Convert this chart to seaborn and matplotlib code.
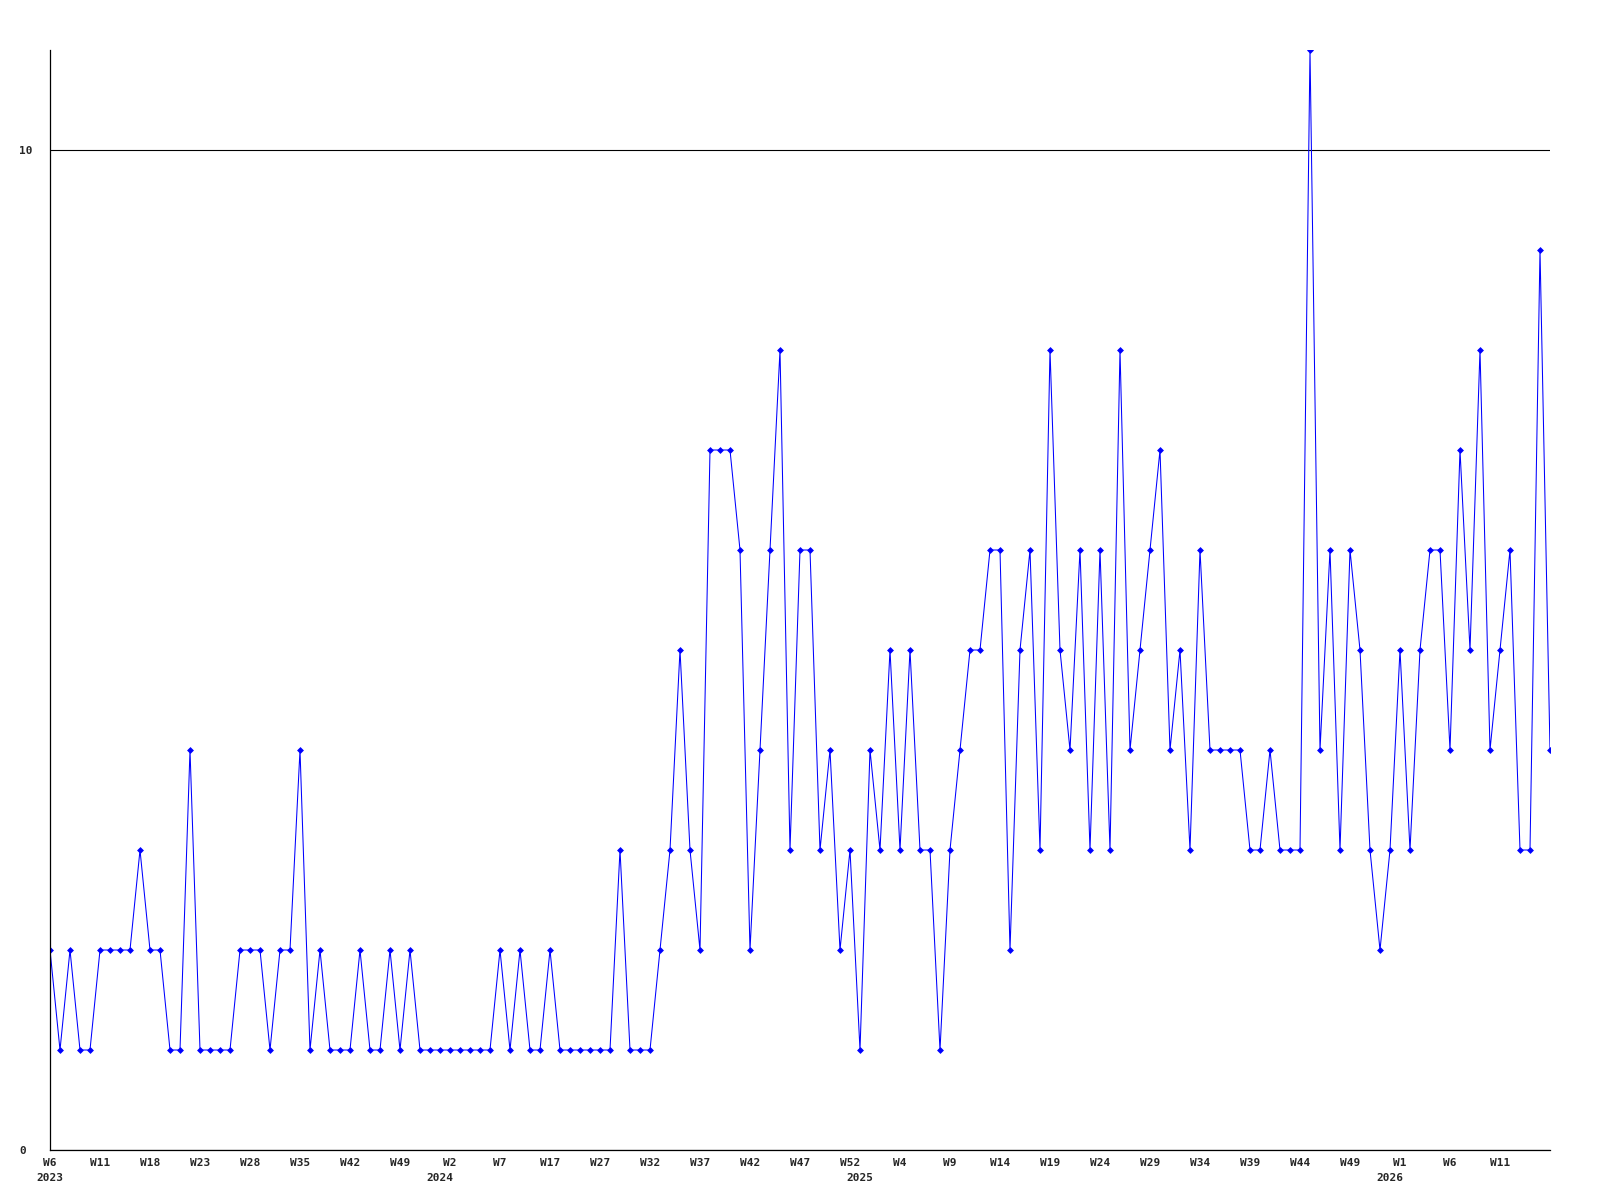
import matplotlib

matplotlib.use("Agg")
import matplotlib.pyplot as plt
import pandas as pd
import seaborn as sns

# weekly counts, one per reported week (weeks without entries are absent)
counts = [
    2, 1, 2, 1, 1, 2, 2, 2, 2, 3, 2, 2, 1, 1, 4, 1, 1, 1, 1, 2,
    2, 2, 1, 2, 2, 4, 1, 2, 1, 1, 1, 2, 1, 1, 2, 1, 2, 1, 1, 1,
    1, 1, 1, 1, 1, 2, 1, 2, 1, 1, 2, 1, 1, 1, 1, 1, 1, 3, 1, 1,
    1, 2, 3, 5, 3, 2, 7, 7, 7, 6, 2, 4, 6, 8, 3, 6, 6, 3, 4, 2,
    3, 1, 4, 3, 5, 3, 5, 3, 3, 1, 3, 4, 5, 5, 6, 6, 2, 5, 6, 3,
    8, 5, 4, 6, 3, 6, 3, 8, 4, 5, 6, 7, 4, 5, 3, 6, 4, 4, 4, 4,
    3, 3, 4, 3, 3, 3, 11, 4, 6, 3, 6, 5, 3, 2, 3, 5, 3, 5, 6, 6,
    4, 7, 5, 8, 4, 5, 6, 3, 3, 9, 4,
]

# label shown every 5th point
week_labels = [
    "W6", "W11", "W18", "W23", "W28", "W35", "W42", "W49",
    "W2", "W7", "W17", "W27", "W32", "W37", "W42", "W47", "W52",
    "W4", "W9", "W14", "W19", "W24", "W29", "W34", "W39", "W44", "W49",
    "W1", "W6", "W11",
]
years = ["2023", "2024", "2025", "2026"]
year_start = [0, 39, 81, 134]
y_ticks = [0, 10]

df = pd.DataFrame({"idx": range(len(counts)), "count": counts})

sns.set_style("white")
plt.rcParams["font.family"] = ["DejaVu Sans Mono", "DejaVu Sans"]

fig = plt.figure(figsize=(16, 12), dpi=100)
ax = fig.add_axes([50 / 1600, 50 / 1200, 1500 / 1600, 1100 / 1200])

sns.lineplot(
    data=df, x="idx", y="count", ax=ax,
    color="#0000ff", linewidth=0.75,
    marker="D", markersize=3, markerfacecolor="#0000ff",
    markeredgecolor="#0000ff", markeredgewidth=0.5,
)

ax.set_xlim(0, len(counts) - 1)
ax.set_ylim(0, 11)
ax.set_xlabel("")
ax.set_ylabel("")

for side in ["top", "right"]:
    ax.spines[side].set_visible(False)
for side in ["left", "bottom"]:
    ax.spines[side].set_color("black")
    ax.spines[side].set_linewidth(0.9)

ax.set_yticks(y_ticks)
ax.set_yticklabels([str(v) for v in y_ticks], fontsize=8, fontweight="bold")
ax.yaxis.grid(True, color="black", linewidth=0.8)
ax.tick_params(axis="y", length=0, pad=22.3)
for lab in ax.get_yticklabels():
    lab.set_horizontalalignment("left")

# year labels sit on a second row; keep the one that shares a spot with W6
ax.xaxis.remove_overlapping_locs = False
ax.set_xticks(range(0, len(week_labels) * 5, 5))
ax.set_xticklabels(week_labels, fontsize=8, fontweight="bold")
ax.set_xticks(year_start, minor=True)
ax.set_xticklabels(years, minor=True, fontsize=8, fontweight="bold")
ax.tick_params(axis="x", which="major", length=0, pad=5.5)
ax.tick_params(axis="x", which="minor", length=0, pad=16.5)
ax.xaxis.grid(False)

fig.savefig("out.png", dpi=100, facecolor="white")
